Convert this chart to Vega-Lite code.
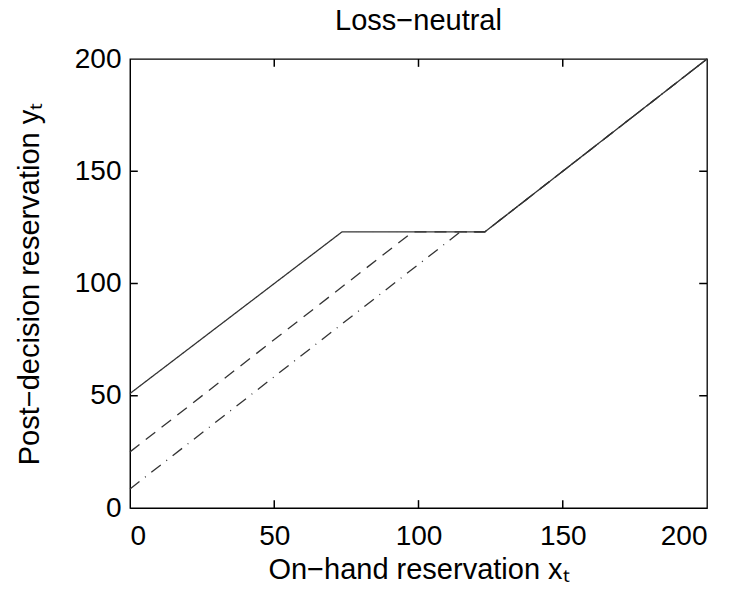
{
  "$schema": "https://vega.github.io/schema/vega-lite/v6.json",
  "autosize": "none",
  "width": 577,
  "height": 449,
  "padding": {"left": 130, "top": 59, "right": 30, "bottom": 91},
  "background": "white",
  "config": {
    "view": {"stroke": "black", "strokeWidth": 1.3},
    "font": "Liberation Sans",
    "axis": {"grid": false, "ticks": false, "domainColor": "black", "labelColor": "black", "titleColor": "black", "labelFont": "Liberation Sans", "titleFont": "Liberation Sans", "labelFontSize": 28, "titleFontSize": 29, "titleFontWeight": "normal"}
  },
  "title": {"text": "Loss−neutral", "fontSize": 29, "fontWeight": "normal", "font": "Liberation Sans", "color": "black", "offset": 9},
  "datasets": {
    "lines": [
      {"s": "a", "x": 0, "y": 51},
      {"s": "a", "x": 73.5, "y": 123},
      {"s": "a", "x": 123, "y": 123},
      {"s": "a", "x": 200, "y": 200},
      {"s": "b", "x": 0, "y": 25},
      {"s": "b", "x": 98, "y": 123},
      {"s": "b", "x": 123, "y": 123},
      {"s": "b", "x": 200, "y": 200},
      {"s": "c", "x": 0, "y": 8.5},
      {"s": "c", "x": 114.5, "y": 123},
      {"s": "c", "x": 123, "y": 123},
      {"s": "c", "x": 200, "y": 200}
    ],
    "ticks": [{"v": 50}, {"v": 100}, {"v": 150}]
  },
  "layer": [
    {
      "data": {"name": "lines"},
      "mark": {"type": "line", "color": "#333333", "strokeWidth": 1.3},
      "encoding": {
        "x": {"field": "x", "type": "quantitative", "scale": {"domain": [0, 200], "nice": false}, "axis": {"values": [0, 50, 100, 150, 200], "title": "On−hand reservation xₜ", "labelPadding": 14, "titlePadding": 5}},
        "y": {"field": "y", "type": "quantitative", "scale": {"domain": [0, 200], "nice": false}, "axis": {"values": [0, 50, 100, 150, 200], "title": "Post−decision reservation yₜ", "labelPadding": 9, "titlePadding": 30}},
        "detail": {"field": "s"},
        "strokeDash": {"field": "s", "type": "nominal", "scale": {"domain": ["a", "b", "c"], "range": [[1, 0], [12, 8], [12, 7, 1, 7]]}, "legend": null}
      }
    },
    {
      "data": {"name": "ticks"},
      "mark": {"type": "rule", "color": "black", "strokeWidth": 1.5},
      "encoding": {"x": {"field": "v", "type": "quantitative"}, "y": {"datum": 0}, "y2": {"datum": 3.5}}
    },
    {
      "data": {"name": "ticks"},
      "mark": {"type": "rule", "color": "black", "strokeWidth": 1.5},
      "encoding": {"x": {"field": "v", "type": "quantitative"}, "y": {"datum": 196.5}, "y2": {"datum": 200}}
    },
    {
      "data": {"name": "ticks"},
      "mark": {"type": "rule", "color": "black", "strokeWidth": 1.5},
      "encoding": {"y": {"field": "v", "type": "quantitative"}, "x": {"datum": 0}, "x2": {"datum": 2.7}}
    },
    {
      "data": {"name": "ticks"},
      "mark": {"type": "rule", "color": "black", "strokeWidth": 1.5},
      "encoding": {"y": {"field": "v", "type": "quantitative"}, "x": {"datum": 197.3}, "x2": {"datum": 200}}
    }
  ]
}
